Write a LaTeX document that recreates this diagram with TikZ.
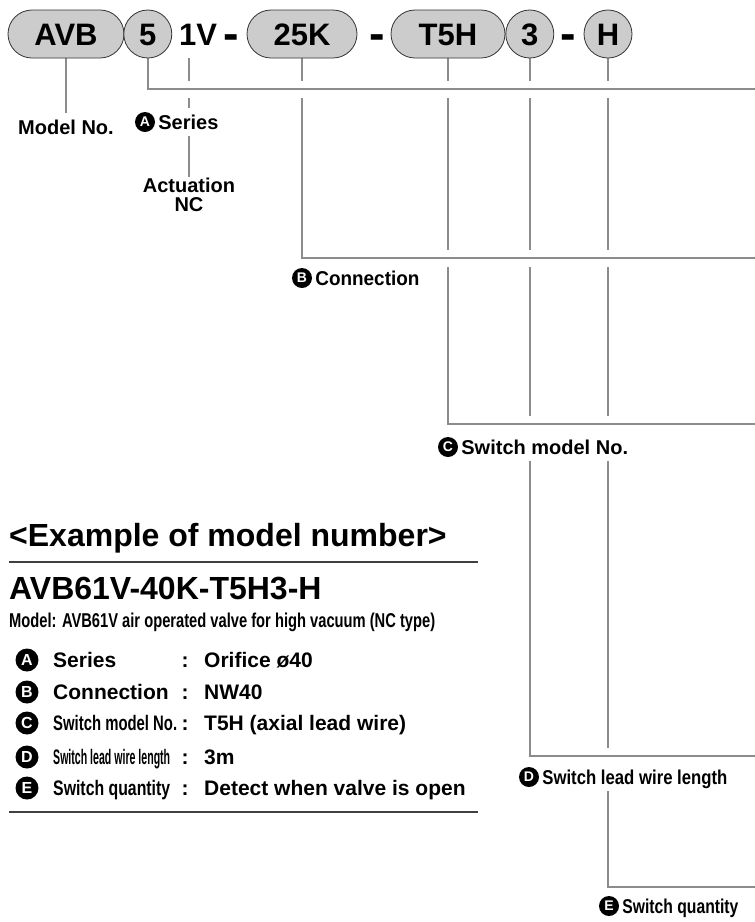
\documentclass[tikz,border=0pt]{standalone}
\usepackage{fontspec}
\setmainfont{Liberation Sans}
\usepackage{graphicx}
\usetikzlibrary{positioning,backgrounds}

\newcommand{\fs}[1]{\fontsize{#1}{#1}\selectfont\bfseries}
\newcommand{\fitw}[2]{\resizebox{#1}{\height}{#2}}
\newcommand{\bigdash}{\raisebox{-4pt}{\scalebox{1.5}[1.5]{-}}}

\tikzset{
  pill/.style={draw=black!80, line width=0.8pt, fill=black!20, rounded corners=24pt,
    minimum height=48pt, inner sep=0pt, text height=22pt, text depth=0pt, font=\fs{31}},
  digit/.style={draw=black!80, line width=0.8pt, fill=black!20, circle, minimum size=48pt,
    inner sep=0pt, text height=22pt, text depth=0pt, font=\fs{31}},
  bare/.style={inner sep=0pt, minimum height=48pt, text height=22pt, text depth=0pt, font=\fs{31}},
  wire/.style={draw=black!45, line width=2pt},
  bridge/.style={wire, preaction={draw=white, line width=17pt}},
  badge/.style={circle, fill=black, text=white, inner sep=0pt, minimum size=20pt, font=\fs{14}},
  lbl/.style={fill=white, inner xsep=1pt, inner ysep=0pt, minimum height=28pt,
    text height=14.3pt, text depth=0pt, font=\fs{20}},
  hrule/.style={draw=black!75, line width=1.5pt},
  headline/.style={anchor=west, inner sep=0pt, font=\fs{32}},
  rowbadge/.style={badge, minimum size=23pt, font=\fs{16}},
  rowtxt/.style={anchor=west, inner sep=0pt, text height=15pt, text depth=0pt, font=\fs{21}},
}

\begin{document}
\begin{tikzpicture}[x=1pt,y=-1pt]
        \useasboundingbox (0,0) rectangle (755,922);
        \node[pill, minimum width=116pt] (avb) at (66,34) {AVB};
        \node[digit, right=-1pt of avb] (ser) {5};
        \node[bare] (act) at (198,34) {1V};
        \node[bare] (d_1) at (231,34) {\bigdash};
        \node[pill, minimum width=110pt] (conn) at (302,34) {25K};
        \node[bare] (d_2) at (377,34) {\bigdash};
        \node[pill, minimum width=114pt] (sw) at (448,34) {T5H};
        \node[digit, right=0pt of sw] (len) {3};
        \node[bare] (d_3) at (568,34) {\bigdash};
        \node[digit] (qty) at (608,34) {H};

        \coordinate (bus_a) at (755,89);
        \coordinate (bus_b) at (755,258);
        \coordinate (bus_c) at (755,424);
        \coordinate (bus_d) at (755,756);
        \coordinate (bus_e) at (755,887);

        \node[lbl] (l_model) at (66,127) {Model No.};
        \node[badge] (b_a) at (145,122) {A};
        \node[lbl, right=2pt of b_a] (l_a) {Series};
        \node[fill=white, inner sep=1pt, align=center, font={\fontsize{20}{19}\selectfont\bfseries}] (l_act) at (189,195) {Actuation\\NC};
        \node[badge] (b_b) at (302,278) {B};
        \node[lbl, right=2pt of b_b] (l_b) {\fitw{104pt}{Connection}};
        \node[badge] (b_c) at (448,447) {C};
        \node[lbl, right=2pt of b_c] (l_c) {Switch model No.};
        \node[badge] (b_d) at (529,777) {D};
        \node[lbl, right=2pt of b_d] (l_d) {\fitw{185pt}{Switch lead wire length}};
        \node[badge] (b_e) at (609,906) {E};
        \node[lbl, right=2pt of b_e] (l_e) {\fitw{116pt}{Switch quantity}};

        \node[headline] (ex_title) at (9,538) {<Example of model number>};
        \coordinate (top_l) at (9,562);
        \coordinate (top_r) at (478,562);
        \node[headline] (ex_code) at (9,588) {AVB61V-40K-T5H3-H};
        \node[rowtxt, font=\fs{20}] (ex_model) at (9,620) {\fitw{426pt}{Model: AVB61V air operated valve for high vacuum (NC type)}};

        \node[rowbadge] (r_a) at (27,660) {A};
        \node[rowtxt] (n_a) at (53,660) {Series};
        \node[rowtxt, anchor=center] (c_a) at (185,660) {:};
        \node[rowtxt] (v_a) at (204,660) {Orifice ø40};
        \node[rowbadge] (r_b) at (27,692) {B};
        \node[rowtxt] (n_b) at (53,692) {Connection};
        \node[rowtxt, anchor=center] (c_b) at (185,692) {:};
        \node[rowtxt] (v_b) at (204,692) {NW40};
        \node[rowbadge] (r_c) at (27,723) {C};
        \node[rowtxt] (n_c) at (53,723) {\fitw{124pt}{Switch model No.}};
        \node[rowtxt, anchor=center] (c_c) at (185,723) {:};
        \node[rowtxt] (v_c) at (204,723) {T5H (axial lead wire)};
        \node[rowbadge] (r_d) at (27,757) {D};
        \node[rowtxt] (n_d) at (53,757) {\fitw{117pt}{Switch lead wire length}};
        \node[rowtxt, anchor=center] (c_d) at (185,757) {:};
        \node[rowtxt] (v_d) at (204,757) {3m};
        \node[rowbadge] (r_e) at (27,788) {E};
        \node[rowtxt] (n_e) at (53,788) {\fitw{117pt}{Switch quantity}};
        \node[rowtxt, anchor=center] (c_e) at (185,788) {:};
        \node[rowtxt] (v_e) at (204,788) {Detect when valve is open};
        \coordinate (bot_l) at (9,812);
        \coordinate (bot_r) at (478,812);

        \draw[hrule] (top_l) -- (top_r);
        \draw[hrule] (bot_l) -- (bot_r);

        \begin{scope}[on background layer]
        \fill[white] (0,0) rectangle (755,922);
        \draw[wire] (avb) -- (l_model);
        \draw[wire] (l_act.north |- act.south) -- (l_act);
        \draw[bridge] (qty.south) |- (bus_e);
        \draw[bridge] (len.south) |- (bus_d);
        \draw[bridge] (sw.south) |- (bus_c);
        \draw[bridge] (conn.south) |- (bus_b);
        \draw[bridge] (ser.south) |- (bus_a);
        \end{scope}
    \end{tikzpicture}
\end{document}
